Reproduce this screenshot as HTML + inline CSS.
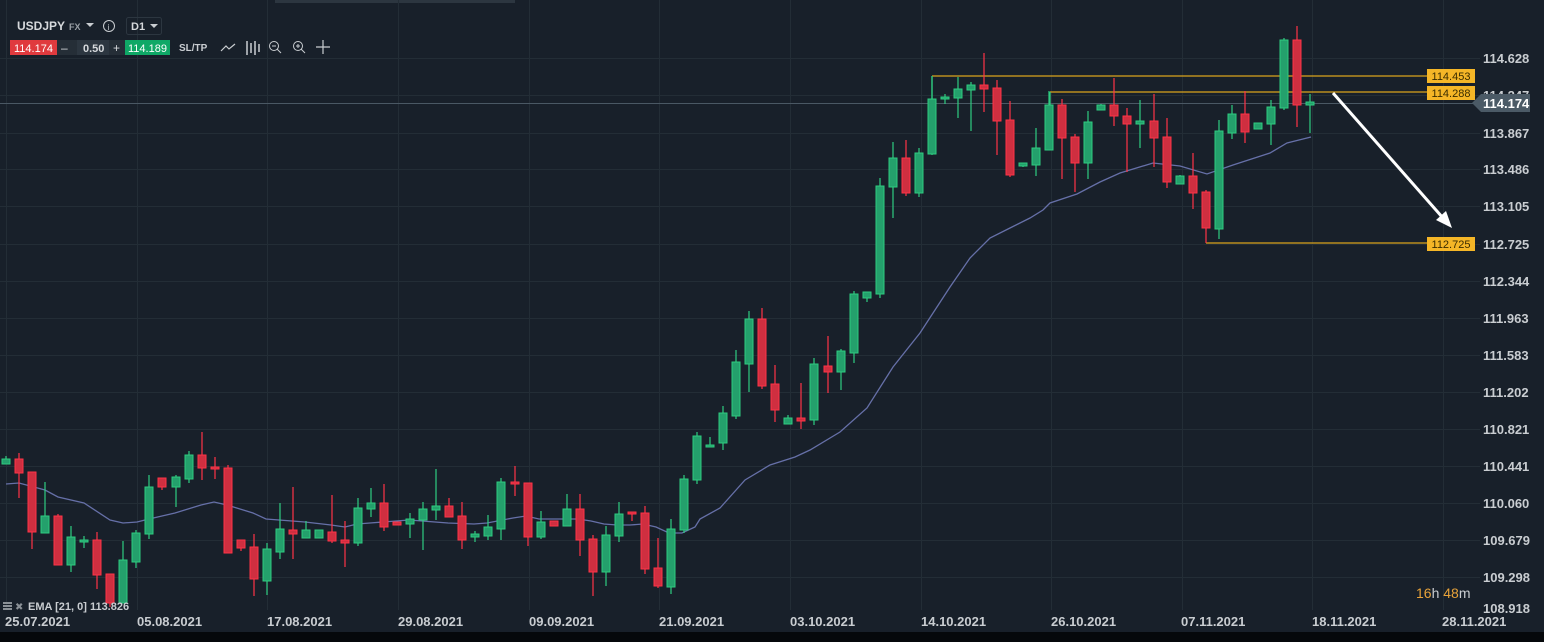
<!DOCTYPE html>
<html><head><meta charset="utf-8"><style>
html,body{margin:0;padding:0;background:#18202a;}
body{width:1544px;height:642px;overflow:hidden;position:relative;font-family:"Liberation Sans",sans-serif;}
.t{position:absolute;white-space:nowrap;}
</style></head><body>
<svg width="1544" height="642" style="position:absolute;left:0;top:0" xmlns="http://www.w3.org/2000/svg" font-family="Liberation Sans, sans-serif">
<rect width="1544" height="642" fill="#18202a"/>
<rect x="275" y="0" width="240" height="3" fill="#2c3640"/>
<g stroke="#232d36" stroke-width="1">
<path d="M0 58.5H1480M0 95.5H1480M0 133.5H1480M0 169.5H1480M0 206.5H1480M0 244.5H1480M0 281.5H1480M0 318.5H1480M0 355.5H1480M0 392.5H1480M0 429.5H1480M0 466.5H1480M0 503.5H1480M0 540.5H1480M0 577.5H1480"/>
<path d="M6.5 0V610M137.5 0V610M267.5 0V610M398.5 0V610M529.5 0V610M659.5 0V610M790.5 0V610M921.5 0V610M1051.5 0V610M1182.5 0V610M1312.5 0V610M1443.5 0V610"/>
</g>
<path d="M0 103.5H1476" stroke="#4a5864" stroke-width="1"/>
<!-- EMA -->
<polyline fill="none" stroke="#6670a8" stroke-width="1.3" points="6,484 19,483 45,490 58,497 84,503 110,520 123,523 137,522 149,519 175,513 201,505 214,502 227,505 253,513 266,519 279,520 305,522 331,525 345,527 357,524 370,523 383,522 396,521 409,520 422,521 448,523 474,524 487,523 513,518 526,516 539,519 565,519 578,519 591,521 604,524 617,525 630,525 643,524 656,527 669,533 682,533 695,527 700,519 720,508 745,480 770,465 795,457 810,450 840,432 867,408 893,367 920,333 950,287 970,258 990,238 1010,228 1030,218 1043,210 1050,203 1077,194 1100,182 1120,173 1153,163 1180,166 1207,174 1233,165 1270,153 1287,143 1311,137"/>
<!-- levels -->
<g stroke="#d9a21c" stroke-width="1.3" fill="none">
<path d="M932 76H1428M1050 92H1428M1206 243H1428"/>
<path d="M932 76V100M1050 92V106" stroke="#2ecc80"/>
</g>
<!-- wicks green -->
<path stroke="#2ecc80" stroke-width="1.2" d="M6 456V464M45 482V533M71 526V572M84 536V548M123 541V603M136 530V568M149 475V539M176 475V507M189 451V483M267 543V595M280 503V559M306 521V538M358 498V546M371 488V517M410 513V538M423 502V550M436 469V520M475 531V542M488 515V540M501 478V540M541 511V539M567 494V526M606 526V586M619 502V542M671 519V594M684 475V533M697 432V484M710 437V447M723 406V450M736 350V419M749 311V392M788 415V424M814 358V425M841 349V390M854 291V363M867 292V302M880 178V298M893 142V218M919 148V197M932 76V155M945 94V104M958 77V118M971 82V131M1023 163V167M1036 128V176M1049 91V150M1088 111V179M1101 104V110M1140 100V148M1180 175V184M1219 120V239M1232 105V139M1271 100V145M1284 38V110M1310 94V133"/>
<path stroke="#ff3347" stroke-width="1.2" d="M19 453V498M32 472V549M58 514V565M97 532V589M110 574V607M162 478V490M202 432V480M215 457V479M228 465V553M241 540V551M254 534V596M293 487V559M332 495V543M345 521V567M384 484V531M449 498V517M462 502V549M515 466V496M528 483V546M580 494V556M593 535V596M632 512V521M645 506V574M658 538V588M762 308V389M775 365V422M801 383V429M828 336V393M906 140V196M984 53V112M997 80V155M1010 101V177M1062 99V179M1075 134V192M1114 78V126M1127 108V172M1154 94V167M1167 118V188M1193 153V209M1206 190V243M1245 91V143M1297 26V127"/>
<g fill="#24a06c" stroke="#2ecc80" stroke-width="1">
<rect x="2" y="459" width="8" height="5"/><rect x="41" y="516" width="8" height="17"/><rect x="67" y="537" width="8" height="28"/><rect x="80" y="540" width="8" height="2"/><rect x="119" y="560" width="8" height="43"/><rect x="132" y="533" width="8" height="29"/><rect x="145" y="487" width="8" height="47"/><rect x="172" y="477" width="8" height="10"/><rect x="185" y="455" width="8" height="24"/><rect x="263" y="549" width="8" height="32"/><rect x="276" y="529" width="8" height="23"/><rect x="302" y="530" width="8" height="8"/><rect x="315" y="530" width="8" height="8"/><rect x="354" y="508" width="8" height="35"/><rect x="367" y="503" width="8" height="6"/><rect x="406" y="519" width="8" height="5"/><rect x="419" y="509" width="8" height="11"/><rect x="432" y="506" width="8" height="4"/><rect x="471" y="534" width="8" height="3"/><rect x="484" y="527" width="8" height="9"/><rect x="497" y="482" width="8" height="47"/><rect x="537" y="522" width="8" height="15"/><rect x="563" y="509" width="8" height="17"/><rect x="602" y="535" width="8" height="37"/><rect x="615" y="514" width="8" height="22"/><rect x="667" y="529" width="8" height="58"/><rect x="680" y="479" width="8" height="51"/><rect x="693" y="436" width="8" height="44"/><rect x="706" y="445" width="8" height="2"/><rect x="719" y="413" width="8" height="30"/><rect x="732" y="362" width="8" height="54"/><rect x="745" y="319" width="8" height="45"/><rect x="784" y="418" width="8" height="6"/><rect x="810" y="364" width="8" height="56"/><rect x="837" y="351" width="8" height="21"/><rect x="850" y="294" width="8" height="59"/><rect x="863" y="292" width="8" height="6"/><rect x="876" y="186" width="8" height="108"/><rect x="889" y="158" width="8" height="29"/><rect x="915" y="153" width="8" height="40"/><rect x="928" y="99" width="8" height="55"/><rect x="941" y="97" width="8" height="2"/><rect x="954" y="89" width="8" height="9"/><rect x="967" y="85" width="8" height="5"/><rect x="1019" y="163" width="8" height="3"/><rect x="1032" y="148" width="8" height="17"/><rect x="1045" y="105" width="8" height="45"/><rect x="1084" y="122" width="8" height="41"/><rect x="1097" y="105" width="8" height="5"/><rect x="1136" y="121" width="8" height="3"/><rect x="1176" y="176" width="8" height="8"/><rect x="1215" y="131" width="8" height="98"/><rect x="1228" y="114" width="8" height="19"/><rect x="1254" y="123" width="8" height="6"/><rect x="1267" y="107" width="8" height="17"/><rect x="1280" y="40" width="8" height="68"/><rect x="1306" y="102" width="8" height="3"/>
</g>
<g fill="#cf2f40" stroke="#ff3347" stroke-width="1">
<rect x="15" y="459" width="8" height="14"/><rect x="28" y="472" width="8" height="60"/><rect x="54" y="516" width="8" height="49"/><rect x="93" y="540" width="8" height="35"/><rect x="106" y="574" width="8" height="29"/><rect x="158" y="478" width="8" height="9"/><rect x="198" y="455" width="8" height="13"/><rect x="211" y="467" width="8" height="2"/><rect x="224" y="468" width="8" height="85"/><rect x="237" y="540" width="8" height="8"/><rect x="250" y="547" width="8" height="32"/><rect x="289" y="530" width="8" height="4"/><rect x="328" y="532" width="8" height="9"/><rect x="341" y="540" width="8" height="3"/><rect x="380" y="503" width="8" height="24"/><rect x="393" y="522" width="8" height="3"/><rect x="445" y="506" width="8" height="11"/><rect x="458" y="516" width="8" height="24"/><rect x="511" y="482" width="8" height="2"/><rect x="524" y="483" width="8" height="54"/><rect x="550" y="521" width="8" height="5"/><rect x="576" y="509" width="8" height="31"/><rect x="589" y="539" width="8" height="33"/><rect x="628" y="512" width="8" height="2"/><rect x="641" y="513" width="8" height="56"/><rect x="654" y="568" width="8" height="18"/><rect x="758" y="319" width="8" height="67"/><rect x="771" y="384" width="8" height="26"/><rect x="797" y="418" width="8" height="3"/><rect x="824" y="366" width="8" height="6"/><rect x="902" y="158" width="8" height="35"/><rect x="980" y="85" width="8" height="4"/><rect x="993" y="88" width="8" height="33"/><rect x="1006" y="120" width="8" height="55"/><rect x="1058" y="105" width="8" height="33"/><rect x="1071" y="137" width="8" height="26"/><rect x="1110" y="105" width="8" height="11"/><rect x="1123" y="116" width="8" height="8"/><rect x="1150" y="121" width="8" height="17"/><rect x="1163" y="137" width="8" height="45"/><rect x="1189" y="176" width="8" height="17"/><rect x="1202" y="192" width="8" height="36"/><rect x="1241" y="114" width="8" height="18"/><rect x="1293" y="40" width="8" height="65"/>
</g>
<!-- arrow -->
<path d="M1333 93L1443 218" stroke="#ffffff" stroke-width="3"/>
<path d="M1452 228L1436 220L1446 211Z" fill="#ffffff"/>
<!-- level labels -->
<g font-size="11" fill="#3a2c00" text-anchor="middle">
<rect x="1427" y="69" width="48" height="14" fill="#f5b627"/><text x="1451" y="80">114.453</text>
<rect x="1427" y="86" width="48" height="14" fill="#f5b627"/><text x="1451" y="97">114.288</text>
<rect x="1427" y="237" width="48" height="14" fill="#f5b627"/><text x="1451" y="248">112.725</text>
</g>
<!-- price axis -->
<g font-size="13" font-weight="bold" fill="#c9cdd1">
<text x="1483" y="63">114.628</text><text x="1483" y="100">114.247</text><text x="1483" y="138">113.867</text><text x="1483" y="174">113.486</text><text x="1483" y="211">113.105</text><text x="1483" y="249">112.725</text><text x="1483" y="286">112.344</text><text x="1483" y="323">111.963</text><text x="1483" y="360">111.583</text><text x="1483" y="397">111.202</text><text x="1483" y="434">110.821</text><text x="1483" y="471">110.441</text><text x="1483" y="508">110.060</text><text x="1483" y="545">109.679</text><text x="1483" y="582">109.298</text><text x="1483" y="613">108.918</text>
</g>
<path d="M1472 103L1481 94H1530V112H1481Z" fill="#4b5a66"/>
<text x="1483" y="108" font-size="13" font-weight="bold" fill="#ffffff">114.174</text>
<!-- date axis -->
<g font-size="13" font-weight="bold" fill="#c9cdd1">
<text x="5" y="626">25.07.2021</text><text x="137" y="626">05.08.2021</text><text x="267" y="626">17.08.2021</text><text x="398" y="626">29.08.2021</text><text x="529" y="626">09.09.2021</text><text x="659" y="626">21.09.2021</text><text x="790" y="626">03.10.2021</text><text x="921" y="626">14.10.2021</text><text x="1051" y="626">26.10.2021</text><text x="1181" y="626">07.11.2021</text><text x="1312" y="626">18.11.2021</text><text x="1442" y="626">28.11.2021</text>
</g>
<rect x="0" y="632" width="1544" height="10" fill="#05080b"/>
<text x="1416" y="598" font-size="14" fill="#e8a33a">16<tspan fill="#c9cdd1">h</tspan> 48<tspan fill="#c9cdd1">m</tspan></text>
<!-- EMA label -->
<rect x="3" y="602" width="9" height="2" fill="#8a9096"/><rect x="3" y="605" width="9" height="2" fill="#8a9096"/><rect x="3" y="608" width="9" height="2" fill="#8a9096"/>
<text x="15" y="610" font-size="10" fill="#8a9096">✖</text>
<text x="28" y="610" font-size="11" font-weight="bold" fill="#c9cdd1">EMA [21, 0] 113.826</text>
<!-- toolbar -->
<text x="17" y="30" font-size="12" font-weight="bold" fill="#d6d9dc">USDJPY</text>
<text x="69" y="30" font-size="9" font-weight="bold" fill="#9aa0a6">FX</text>
<path d="M86 23H94L90 27Z" fill="#c9cdd1"/>
<circle cx="109" cy="26" r="5.5" fill="none" stroke="#c9cdd1" stroke-width="1"/>
<text x="107.5" y="30" font-size="8" fill="#c9cdd1">i</text>
<rect x="126.5" y="17.5" width="35" height="17" rx="2" fill="none" stroke="#2c3640"/>
<text x="131" y="30" font-size="11" font-weight="bold" fill="#d6d9dc">D1</text>
<path d="M150 24H158L154 28Z" fill="#c9cdd1"/>
<rect x="10" y="40" width="47" height="15" fill="#e03a3e"/>
<text x="14" y="52" font-size="11" fill="#fff">114.174</text>
<rect x="57" y="40" width="68" height="15" fill="#252e37"/>
<rect x="77" y="40" width="32" height="15" fill="#2c3640"/>
<text x="61" y="52" font-size="12" fill="#d6d9dc">–</text>
<text x="83" y="52" font-size="11" font-weight="bold" fill="#d6d9dc">0.50</text>
<text x="113" y="52" font-size="12" fill="#d6d9dc">+</text>
<rect x="125" y="40" width="45" height="15" fill="#0fa866"/>
<text x="128" y="52" font-size="11" fill="#fff">114.189</text>
<text x="179" y="51" font-size="10" font-weight="bold" fill="#c9cdd1">SL/TP</text>
<path d="M221 51L226 46L229 49L235 44" fill="none" stroke="#c9cdd1" stroke-width="1.2"/>
<path d="M247 41V55M251 43V53M255 41V55M259 44V52" stroke="#c9cdd1" stroke-width="1.5"/>
<circle cx="274" cy="46" r="4.5" fill="none" stroke="#c9cdd1"/><path d="M272 46H276M277 49L281 53" stroke="#c9cdd1"/>
<circle cx="298" cy="46" r="4.5" fill="none" stroke="#c9cdd1"/><path d="M296 46H300M298 44V48M301 49L305 53" stroke="#c9cdd1"/>
<path d="M323 40V54M316 47H330" stroke="#c9cdd1" stroke-width="1.2"/>
</svg>
</body></html>
